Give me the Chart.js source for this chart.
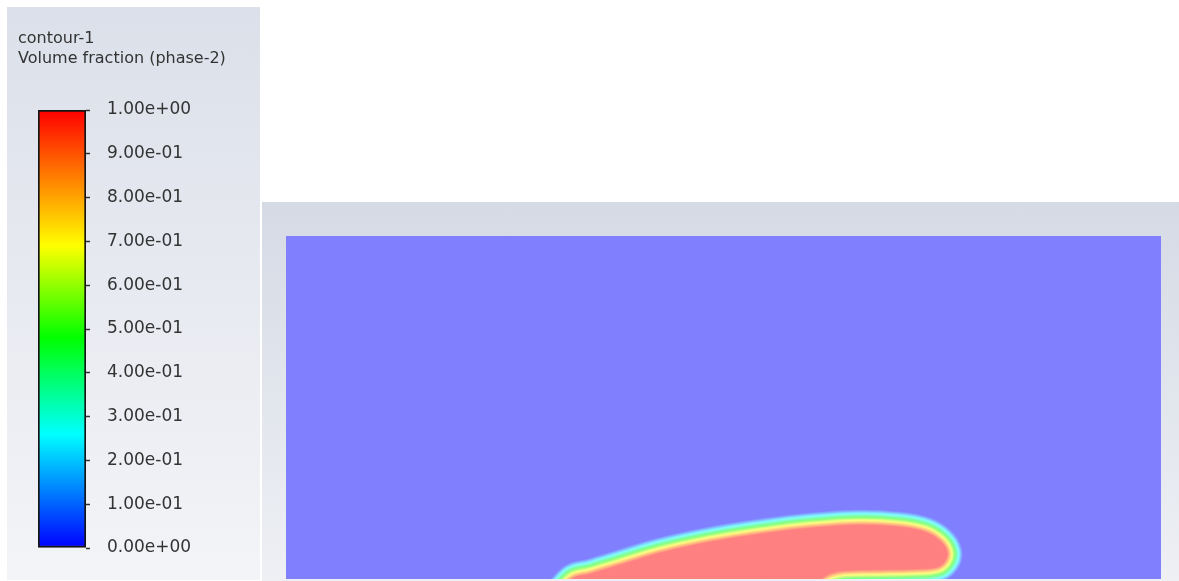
<!DOCTYPE html>
<html>
<head>
<meta charset="utf-8">
<script src="https://cdn.jsdelivr.net/npm/chart.js@4.4.1/dist/chart.umd.min.js"></script>
<style>
  html, body { margin: 0; padding: 0; background: #fff; }
  body { width: 1179px; height: 581px; position: relative; overflow: hidden; }
  #legendPanel { position: absolute; left: 7px; top: 7px; width: 253px; height: 573px;
                 background: linear-gradient(#dce0ea, #f3f4f7); }
  #viewPanel { position: absolute; left: 262px; top: 202px; width: 917px; height: 379px;
               background: linear-gradient(#d5dae5, #eef0f4); }
  canvas { position: absolute; }
  #legendChart { left: 0; top: 0; }
  #contourChart { left: 262px; top: 202px; }
</style>
</head>
<body>
<div id="legendPanel"></div>
<div id="viewPanel"></div>
<canvas id="legendChart" width="260" height="581"></canvas>
<canvas id="contourChart" width="917" height="379"></canvas>
<script>
// volume fraction levels shown on the colour bar
var levelRange = [0, 1];
var tickValues = [0, 0.1, 0.2, 0.3, 0.4, 0.5, 0.6, 0.7, 0.8, 0.9, 1.0];
var tickLabels = ['0.00e+00', '1.00e-01', '2.00e-01', '3.00e-01', '4.00e-01', '5.00e-01',
                  '6.00e-01', '7.00e-01', '8.00e-01', '9.00e-01', '1.00e+00'];
var titleLines = ['contour-1', 'Volume fraction (phase-2)'];

// domain extent (x along the channel, y height)
var domainX = [0, 100];
var domainY = [0, 39.2];

// edge of the phase-2 pocket (fraction ~1 inside), starting below the wall on the left
var pocketOutline = [
  {x: 30.6, y: -2.5}, {x: 32.69, y: 0.0}, {x: 34.74, y: 0.57}, {x: 38.17, y: 1.6},
  {x: 42.74, y: 2.97}, {x: 48.46, y: 4.23}, {x: 54.17, y: 5.14}, {x: 59.89, y: 5.83},
  {x: 65.6, y: 6.17}, {x: 70.17, y: 5.94}, {x: 73.03, y: 5.37}, {x: 74.74, y: 4.34},
  {x: 75.54, y: 3.09}, {x: 75.31, y: 2.06}, {x: 74.4, y: 1.37}, {x: 71.89, y: 1.14},
  {x: 66.74, y: 1.03}, {x: 63.8, y: 0.95}, {x: 62.3, y: 0.65}, {x: 61.2, y: 0.0},
  {x: 60.2, y: -1.6}, {x: 45.0, y: -2.6}
];

// rainbow colour map (blue -> cyan -> green -> yellow -> red)
var colourStops = [[0, '#0000ff'], [0.26, '#00ffff'], [0.48, '#00ff00'], [0.69, '#ffff00'], [1, '#ff0000']];

function hexRgb(h) {
  return [parseInt(h.substr(1, 2), 16), parseInt(h.substr(3, 2), 16), parseInt(h.substr(5, 2), 16)];
}

function mapColour(v, wash) {
  var i = 0;
  while (i < colourStops.length - 2 && v > colourStops[i + 1][0]) i++;
  var a = colourStops[i], b = colourStops[i + 1];
  var t = Math.min(1, Math.max(0, (v - a[0]) / (b[0] - a[0])));
  var ca = hexRgb(a[1]), cb = hexRgb(b[1]);
  var rgb = ca.map(function (c, k) { return c + (cb[k] - c) * t; });
  // contours are drawn half transparent over white
  if (wash) rgb = rgb.map(function (c) { return c + (255 - c) * wash; });
  return 'rgb(' + rgb.map(Math.round).join(',') + ')';
}

var textFont = 'DejaVu Sans';

// colour bar
new Chart(document.getElementById('legendChart'), {
  type: 'bar',
  data: {
    labels: ['phase-2'],
    datasets: [{
      data: [levelRange],
      yAxisID: 'y',
      borderColor: '#151515',
      borderWidth: 2,
      borderSkipped: false,
      barPercentage: 1,
      categoryPercentage: 1,
      backgroundColor: function (context) {
        var area = context.chart.chartArea;
        if (!area) return null;
        var g = context.chart.ctx.createLinearGradient(0, area.bottom, 0, area.top);
        colourStops.forEach(function (s) { g.addColorStop(s[0], s[1]); });
        return g;
      }
    }]
  },
  options: {
    responsive: false,
    animation: false,
    devicePixelRatio: 1,
    layout: { padding: { left: 18, top: 0, right: 0, bottom: 33 } },
    plugins: {
      legend: { display: false },
      tooltip: { enabled: false },
      title: {
        display: true,
        text: titleLines,
        align: 'start',
        color: '#333',
        font: { family: textFont, size: 16, weight: 'normal', lineHeight: 20 / 16 },
        padding: { top: 29, bottom: 41 }
      }
    },
    scales: {
      x: { display: false },
      gap: {
        position: 'left',
        display: true,
        ticks: { display: false },
        grid: { display: false },
        border: { display: false },
        afterFit: function (s) { s.width = 20; }
      },
      y: {
        position: 'right',
        min: levelRange[0],
        max: levelRange[1],
        afterBuildTicks: function (s) {
          s.ticks = tickValues.map(function (v) { return { value: v }; });
        },
        afterFit: function (s) { s.width = 174; },
        ticks: {
          padding: 17,
          color: '#333',
          font: { family: textFont, size: 17 },
          callback: function (v, i) { return tickLabels[i]; }
        },
        grid: { drawOnChartArea: false, drawTicks: true, tickLength: 4, tickWidth: 1.5, color: '#333' },
        border: { display: false }
      }
    }
  }
});

// contour view: filled pocket with graded rim, widest rim drawn first
var rimWidth = 16;
var rimLevels = [];
for (var k = 1; k < 24; k++) rimLevels.push(k / 24);

var pocketSets = [{
  data: pocketOutline,
  showLine: true,
  pointRadius: 0,
  tension: 0.4,
  borderWidth: 0,
  fill: 'shape',
  backgroundColor: mapColour(1, 0.5)
}];
rimLevels.slice().reverse().forEach(function (v) {
  pocketSets.push({
    data: pocketOutline,
    showLine: true,
    pointRadius: 0,
    tension: 0.4,
    fill: false,
    borderColor: mapColour(v, 0.5),
    borderWidth: 2 * rimWidth * (1 - v)
  });
});

var viewBackground = {
  id: 'viewBackground',
  beforeDatasetsDraw: function (chart) {
    var a = chart.chartArea, ctx = chart.ctx;
    ctx.save();
    ctx.fillStyle = mapColour(0, 0.5);
    ctx.fillRect(a.left, a.top, a.right - a.left, a.bottom - a.top);
    ctx.restore();
  }
};

new Chart(document.getElementById('contourChart'), {
  type: 'scatter',
  data: { datasets: pocketSets },
  options: {
    responsive: false,
    animation: false,
    devicePixelRatio: 1,
    layout: { padding: { left: 24, right: 18, top: 34, bottom: 2 } },
    plugins: { legend: { display: false }, tooltip: { enabled: false } },
    scales: {
      x: { type: 'linear', display: false, min: domainX[0], max: domainX[1] },
      y: { type: 'linear', display: false, min: domainY[0], max: domainY[1] }
    }
  },
  plugins: [viewBackground]
});
</script>
</body>
</html>
